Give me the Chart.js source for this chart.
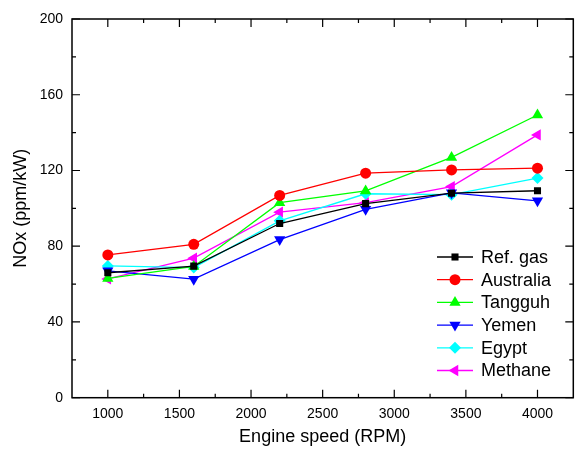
<!DOCTYPE html>
<html>
<head>
<meta charset="utf-8">
<script src="https://cdn.jsdelivr.net/npm/chart.js@4/dist/chart.umd.min.js"></script>
<style>
  html, body { margin: 0; padding: 0; background: #fff; }
  #wrap { width: 575px; height: 452px; }
</style>
</head>
<body>
<div id="wrap"><canvas id="noxChart" width="575" height="452"></canvas></div>
<script>
const speeds = [1000, 1600, 2200, 2800, 3400, 4000];
const refGas = [66, 69.5, 92, 102.5, 108, 109.3];
const australia = [75.4, 81, 106.8, 118.6, 120.3, 121.2];
const tangguh = [63, 69.3, 103, 109.2, 126.9, 149.3];
const yemen = [67, 62.6, 83.5, 99.5, 108.2, 104];
const egypt = [69.6, 68.7, 93.4, 107.7, 107.2, 116];
const methane = [62.7, 73.7, 98, 103, 111.5, 138.8];

const xTicks = [1000, 1500, 2000, 2500, 3000, 3500, 4000];
const yTicks = [0, 40, 80, 120, 160, 200];

const FONT = 'Liberation Sans, Arial, sans-serif';

function series(label, values, color, style, rotation, radius) {
    return {
        label: label,
        data: values.map((v, i) => ({ x: speeds[i], y: v })),
        borderColor: color,
        backgroundColor: color,
        borderWidth: 1.3,
        pointStyle: style,
        rotation: rotation,
        pointRadius: radius,
        pointBorderWidth: 0,
        pointHoverRadius: radius,
        tension: 0
    };
}

// frame with inward major/minor ticks on all four sides
const frameTicks = {
    id: 'frameTicks',
    afterDraw(chart) {
        const { ctx, chartArea: a, scales: { x, y } } = chart;
        ctx.save();
        ctx.strokeStyle = '#000';
        ctx.lineWidth = 1.5;
        ctx.strokeRect(a.left, a.top, a.right - a.left, a.bottom - a.top);
        ctx.lineWidth = 1.2;
        ctx.beginPath();
        for (let v = 1000; v <= 4000; v += 250) {
            const px = x.getPixelForValue(v);
            const len = v % 500 === 0 ? 8 : 4;
            ctx.moveTo(px, a.bottom); ctx.lineTo(px, a.bottom - len);
            ctx.moveTo(px, a.top); ctx.lineTo(px, a.top + len);
        }
        for (let v = 0; v <= 200; v += 20) {
            const py = y.getPixelForValue(v);
            const len = v % 40 === 0 ? 8 : 4;
            ctx.moveTo(a.left, py); ctx.lineTo(a.left + len, py);
            ctx.moveTo(a.right, py); ctx.lineTo(a.right - len, py);
        }
        ctx.stroke();
        ctx.restore();
    }
};

// legend with a line through each marker
const lineLegend = {
    id: 'lineLegend',
    afterDraw(chart) {
        const ctx = chart.ctx;
        const x0 = 437, x1 = 473, tx = 481;
        let yy = 257;
        ctx.save();
        ctx.font = '18px ' + FONT;
        ctx.textBaseline = 'middle';
        chart.data.datasets.forEach(ds => {
            ctx.strokeStyle = ds.borderColor;
            ctx.lineWidth = 1.3;
            ctx.beginPath();
            ctx.moveTo(x0, yy); ctx.lineTo(x1, yy);
            ctx.stroke();
            ctx.fillStyle = ds.backgroundColor;
            Chart.helpers.drawPoint(ctx, {
                pointStyle: ds.pointStyle,
                rotation: ds.rotation,
                radius: ds.pointRadius,
                borderWidth: 0
            }, (x0 + x1) / 2, yy);
            ctx.fillStyle = '#000';
            ctx.fillText(ds.label, tx, yy + 1);
            yy += 22.7;
        });
        ctx.restore();
    }
};

new Chart(document.getElementById('noxChart'), {
    type: 'line',
    data: {
        datasets: [
            series('Ref. gas', refGas, '#000000', 'rect', 0, 5),
            series('Australia', australia, '#ff0000', 'circle', 0, 5.5),
            series('Tangguh', tangguh, '#00ff00', 'triangle', 0, 6.5),
            series('Yemen', yemen, '#0000ff', 'triangle', 180, 6.5),
            series('Egypt', egypt, '#00ffff', 'rectRot', 0, 6),
            series('Methane', methane, '#ff00ff', 'triangle', 270, 6.5)
        ]
    },
    options: {
        responsive: false,
        animation: false,
        layout: { autoPadding: false, padding: { top: 19, right: 1.7, left: 0, bottom: 0 } },
        plugins: {
            legend: { display: false },
            tooltip: { enabled: false }
        },
        scales: {
            x: {
                type: 'linear',
                min: 750,
                max: 4250,
                afterBuildTicks: s => { s.ticks = xTicks.map(v => ({ value: v })); },
                afterFit: s => { s.height = 54.3; s.paddingLeft = 0; s.paddingRight = 0; },
                grid: { display: false, drawTicks: false },
                border: { display: false },
                ticks: {
                    color: '#000',
                    padding: 8,
                    maxRotation: 0,
                    callback: v => String(v),
                    font: { family: FONT, size: 14 }
                },
                title: {
                    display: true,
                    text: 'Engine speed (RPM)',
                    color: '#000',
                    padding: { top: 6 },
                    font: { family: FONT, size: 18 }
                }
            },
            y: {
                min: 0,
                max: 200,
                afterBuildTicks: s => { s.ticks = yTicks.map(v => ({ value: v })); },
                afterFit: s => { s.width = 72; s.paddingTop = 0; s.paddingBottom = 0; },
                grid: { display: false, drawTicks: false },
                border: { display: false },
                ticks: {
                    color: '#000',
                    padding: 9,
                    callback: v => String(v),
                    font: { family: FONT, size: 14 }
                },
                title: {
                    display: true,
                    text: 'NOx (ppm/kW)',
                    color: '#000',
                    padding: { top: 10, bottom: 0 },
                    font: { family: FONT, size: 18 }
                }
            }
        }
    },
    plugins: [frameTicks, lineLegend]
});
</script>
</body>
</html>
